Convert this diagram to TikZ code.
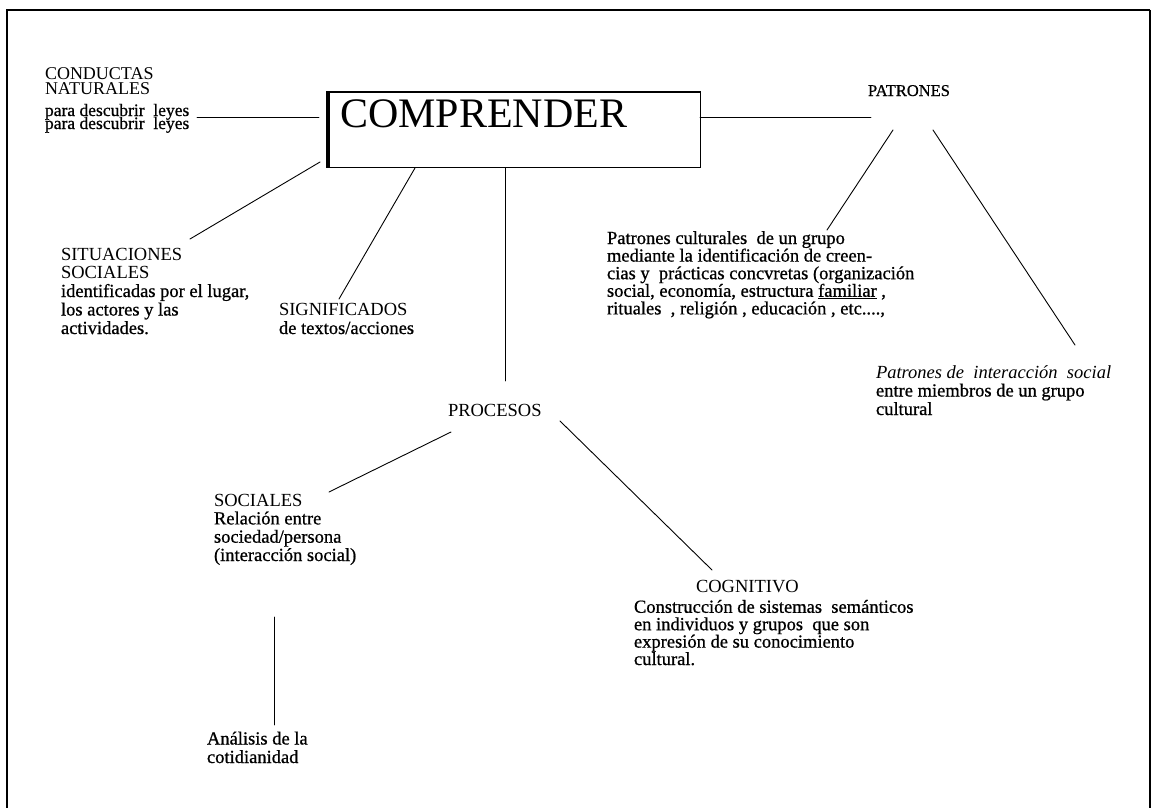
\documentclass[tikz,border=0pt]{standalone}
\usepackage{fontspec}
\setmainfont{Liberation Serif}
\newfontfamily\heavy{Liberation Serif}[FakeBold=0.8]
\begin{document}
\begin{tikzpicture}[x=1pt,y=-1pt,
  txt/.style={anchor=base west, inner sep=0pt, outer sep=0pt, align=left,
              font=\fontsize{18.5}{18.5}\selectfont},
  link/.style={line width=0.9pt, line cap=round}]
\useasboundingbox (0,0) rectangle (1156,808);
% page frame
\draw[line width=1.5pt] (7,808) -- (7,10) -- (1150,10);
\draw[line width=2.5pt] (1150,10) -- (1150,808);

% central box
\node[draw, line width=1.3pt, minimum width=373pt, minimum height=75pt,
      inner sep=0pt, anchor=north west] (box) at (327,92) {};
\draw[line width=4.5pt] ([xshift=1pt,yshift=1pt]box.north west) -- ([xshift=1pt]box.south west);
\draw[line width=2.2pt] (box.north west) -- (box.north east);
\node[anchor=base west, inner sep=0pt, font=\fontsize{42}{42}\selectfont] (comp) at (340,127) {COMPRENDER};

% texts (base anchor of a multi-line node = baseline of its last line)
\node[txt, font=\fontsize{18}{14}\selectfont] (cond) at (45,94) {CONDUCTAS\\NATURALES};
\node[txt, font=\heavy\fontsize{17.5}{17.5}\selectfont] (leyesA) at (45,116) {para descubrir~ leyes};
\node[txt, font=\heavy\fontsize{17.5}{17.5}\selectfont] (leyesB) at (45,129) {para descubrir~ leyes};

\node[txt, font=\heavy\fontsize{16.5}{16.5}\selectfont] (pat) at (868,96) {PATRONES};

\node[txt, font=\heavy\fontsize{18.5}{17.6}\selectfont] (patcul) at (607,314.4)
  {Patrones culturales~ de un grupo\\
   mediante la identificación de creen-\\
   cias y~ prácticas concvretas (organización\\
   social, economía, estructura \underline{familiar} ,\\
   rituales~ , religión , educación , etc....,};

\node[txt] (patint) at (876,415)
  {\textit{Patrones de~ interacción~ social}\\
   {\heavy entre miembros de un grupo}\\
   {\heavy cultural}};

\node[txt] (sit) at (61,334)
  {SITUACIONES\\SOCIALES\\{\heavy identificadas por el lugar,}\\{\heavy los actores y las}\\{\heavy actividades.}};

\node[txt] (sig) at (279,334) {SIGNIFICADOS\\{\heavy de textos/acciones}};

\node[txt] (proc) at (448,416) {PROCESOS};

\node[txt, font=\fontsize{18.5}{18.3}\selectfont] (soc) at (214,561)
  {SOCIALES\\{\heavy Relación entre}\\{\heavy sociedad/persona}\\{\heavy (interacción social)}};

\node[txt, font=\heavy\fontsize{18.5}{18.5}\selectfont] (ana) at (207,763) {Análisis de la\\cotidianidad};

\node[txt, font=\fontsize{18.5}{17.4}\selectfont] (cog) at (634,665)
  {\hspace*{62pt}COGNITIVO\\[2.6pt]
   {\heavy Construcción de sistemas~ semánticos}\\
   {\heavy en individuos y grupos~ que son}\\
   {\heavy expresión de su conocimiento}\\
   {\heavy cultural.}};

% connector end points
\coordinate (condR) at (197,117);
\coordinate (boxL)  at (319,117);
\coordinate (boxR)  at (700,117);
\coordinate (patL)  at (871,117);
\coordinate (patA)  at (893,130);
\coordinate (culT)  at (827,230);
\coordinate (patB)  at (933,130);
\coordinate (intT)  at (1075,345);
\coordinate (boxSW) at (320,162);
\coordinate (sitT)  at (190,239);
\coordinate (boxS1) at (415,168);
\coordinate (sigT)  at (339,299);
\coordinate (boxS2) at (505,168);
\coordinate (procT) at (505,381);
\coordinate (procL) at (451,432);
\coordinate (socT)  at (329,492);
\coordinate (procR) at (560,421);
\coordinate (cogT)  at (712,570);
\coordinate (socB)  at (274,617);
\coordinate (anaT)  at (274,725);

% connectors
\draw[link] (condR) -- (boxL);
\draw[link] (boxR) -- (patL);
\draw[link] (patA) -- (culT);
\draw[link] (patB) -- (intT);
\draw[link] (boxSW) -- (sitT);
\draw[link] (boxS1) -- (sigT);
\draw[link] (boxS2) -- (procT);
\draw[link] (procL) -- (socT);
\draw[link] (procR) -- (cogT);
\draw[link] (socB) -- (anaT);
\end{tikzpicture}
\end{document}
